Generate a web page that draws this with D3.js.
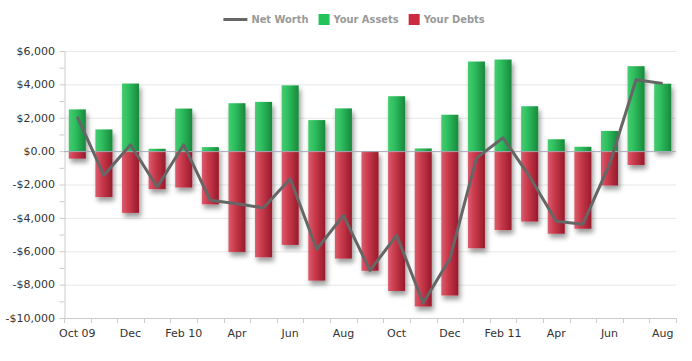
<!DOCTYPE html>
<html>
<head>
<meta charset="utf-8">
<script src="https://cdn.jsdelivr.net/npm/d3@7"></script>
<style>
  body { margin: 0; background: #fff; }
  svg { display: block; font-family: "DejaVu Sans", sans-serif; }
</style>
</head>
<body>
<svg id="chart" width="692" height="361"></svg>
<script>
// Monthly balance chart
const months = ["Oct 09", "Nov 09", "Dec 09", "Jan 10", "Feb 10", "Mar 10", "Apr 10", "May 10",
  "Jun 10", "Jul 10", "Aug 10", "Sep 10", "Oct 10", "Nov 10", "Dec 10", "Jan 11", "Feb 11",
  "Mar 11", "Apr 11", "May 11", "Jun 11", "Jul 11", "Aug 11"];
const tickMonths = ["Oct 09", "Dec 09", "Feb 10", "Apr 10", "Jun 10", "Aug 10", "Oct 10",
  "Dec 10", "Feb 11", "Apr 11", "Jun 11", "Aug 11"];
const tickLabels = ["Oct 09", "Dec", "Feb 10", "Apr", "Jun", "Aug", "Oct", "Dec", "Feb 11", "Apr", "Jun", "Aug"];
const assets = [2500, 1300, 4050, 140, 2550, 240, 2870, 2950, 3940, 1860, 2560, 0,
  3290, 160, 2180, 5370, 5490, 2690, 710, 260, 1210, 5090, 4040];
const debts = [-450, -2750, -3700, -2280, -2180, -3190, -6040, -6360, -5620, -7760, -6440, -7170,
  -8380, -9310, -8650, -5820, -4730, -4220, -4950, -4650, -2060, -830, 0];
const netWorth = [2050, -1450, 380, -2150, 380, -2950, -3150, -3400, -1650, -5880, -3850, -7150,
  -5050, -9100, -6450, -420, 800, -1530, -4200, -4380, -800, 4280, 4050];
const yTicks = [6000, 4000, 2000, 0, -2000, -4000, -6000, -8000, -10000];
const seriesNames = ["Net Worth", "Your Assets", "Your Debts"];

const svg = d3.select("#chart");
const mLeft = 64, mRight = 676, mTop = 51, mBottom = 318;

const x = d3.scaleBand().domain(months).range([mLeft, mRight]).paddingInner(0.36).paddingOuter(0.18);
const y = d3.scaleLinear().domain([-10000, 6000]).range([mBottom, mTop]);
const cx = d => x(d) + x.bandwidth() / 2;
const step = x.step();

const defs = svg.append("defs");
function hGrad(id, c1, c2, c3) {
  const g = defs.append("linearGradient").attr("id", id).attr("x1", 0).attr("x2", 1).attr("y1", 0).attr("y2", 0);
  g.append("stop").attr("offset", "0%").attr("stop-color", c1);
  g.append("stop").attr("offset", "35%").attr("stop-color", c2);
  g.append("stop").attr("offset", "100%").attr("stop-color", c3);
}
hGrad("gGreen", "#45cc70", "#2fc060", "#18893c");
hGrad("gRed", "#da5d6d", "#cc3c4e", "#981a2b");

const shadow = defs.append("filter").attr("id", "shadow")
  .attr("x", "-50%").attr("y", "-20%").attr("width", "200%").attr("height", "150%");
shadow.append("feDropShadow").attr("dx", 2).attr("dy", 4).attr("stdDeviation", 2.5)
  .attr("flood-color", "#000").attr("flood-opacity", 0.4);

// gridlines
svg.append("g").selectAll("line").data(yTicks.filter(t => t !== 0 && t !== -10000)).enter().append("line")
  .attr("x1", mLeft).attr("x2", mRight)
  .attr("y1", d => y(d) + 0.5).attr("y2", d => y(d) + 0.5)
  .attr("stroke", "#e8e8e8");

// left axis
const yAxis = svg.append("g").attr("transform", `translate(${mLeft + 0.5},0)`)
  .call(d3.axisLeft(y).tickValues(d3.range(-10000, 6001, 1000)).tickSize(5).tickFormat(""));
yAxis.select(".domain").attr("stroke", "#ccc");
yAxis.selectAll(".tick line").attr("stroke", "#ccc");

svg.append("g").selectAll("text").data(yTicks).enter().append("text")
  .attr("x", mLeft - 9).attr("y", d => y(d)).attr("dy", "0.35em")
  .attr("text-anchor", "end").attr("font-size", 11).attr("fill", "#333")
  .text(d => d === 0 ? "$0.00" : (d < 0 ? "-" : "") + "$" + d3.format(",")(Math.abs(d)));

// bottom axis
svg.append("line").attr("x1", mLeft).attr("x2", mRight).attr("y1", mBottom + 0.5).attr("y2", mBottom + 0.5)
  .attr("stroke", "#ccc");
svg.append("g").selectAll("line").data(months.concat(["end"])).enter().append("line")
  .attr("x1", (d, i) => Math.round(mLeft + i * step) + 0.5)
  .attr("x2", (d, i) => Math.round(mLeft + i * step) + 0.5)
  .attr("y1", mBottom).attr("y2", mBottom + 5).attr("stroke", "#ccc");
svg.append("g").selectAll("text").data(tickMonths).enter().append("text")
  .attr("x", d => cx(d)).attr("y", mBottom + 19)
  .attr("text-anchor", "middle").attr("font-size", 11).attr("fill", "#333")
  .text((d, i) => tickLabels[i]);

// bars
const bars = svg.append("g").attr("filter", "url(#shadow)");
bars.selectAll(".asset").data(months).enter().append("rect")
  .attr("x", d => x(d)).attr("width", x.bandwidth())
  .attr("y", (d, i) => y(assets[i])).attr("height", (d, i) => y(0) - y(assets[i]))
  .attr("fill", "url(#gGreen)");
bars.selectAll(".debt").data(months).enter().append("rect")
  .attr("x", d => x(d)).attr("width", x.bandwidth())
  .attr("y", y(0)).attr("height", (d, i) => y(debts[i]) - y(0))
  .attr("fill", "url(#gRed)");

// zero line
svg.append("line").attr("x1", mLeft).attr("x2", mRight).attr("y1", y(0) + 0.5).attr("y2", y(0) + 0.5)
  .attr("stroke", "#a3abb8");

// net worth line
svg.append("path").datum(months)
  .attr("d", d3.line().x(d => cx(d)).y((d, i) => y(netWorth[i])))
  .attr("fill", "none").attr("stroke", "#666").attr("stroke-width", 3).attr("stroke-linejoin", "round");

// legend - laid out from measured text widths
const legend = svg.append("g")
  .attr("font-family", "'DejaVu Sans Condensed', 'DejaVu Sans', sans-serif")
  .attr("font-size", 11).attr("font-weight", "bold").attr("fill", "#999");
let lx = 0;
const items = [];
seriesNames.forEach((name, i) => {
  const g = legend.append("g").attr("transform", `translate(${lx},0)`);
  const symW = i === 0 ? 24 : 11;
  if (i === 0) {
    g.append("line").attr("x1", 0).attr("x2", symW).attr("y1", 19.5).attr("y2", 19.5)
      .attr("stroke", "#666").attr("stroke-width", 3);
  } else {
    g.append("rect").attr("x", 0).attr("y", 14).attr("width", symW).attr("height", 11)
      .attr("fill", i === 1 ? "#22c35b" : "#cc2a3e");
  }
  const t = g.append("text").attr("x", symW + 4).attr("y", 19).attr("dy", "0.35em").text(name);
  lx += symW + 4 + t.node().getComputedTextLength() + 10;
});
const lw = lx - 10;
legend.attr("transform", `translate(${354 - lw / 2},0)`);
</script>
</body>
</html>
